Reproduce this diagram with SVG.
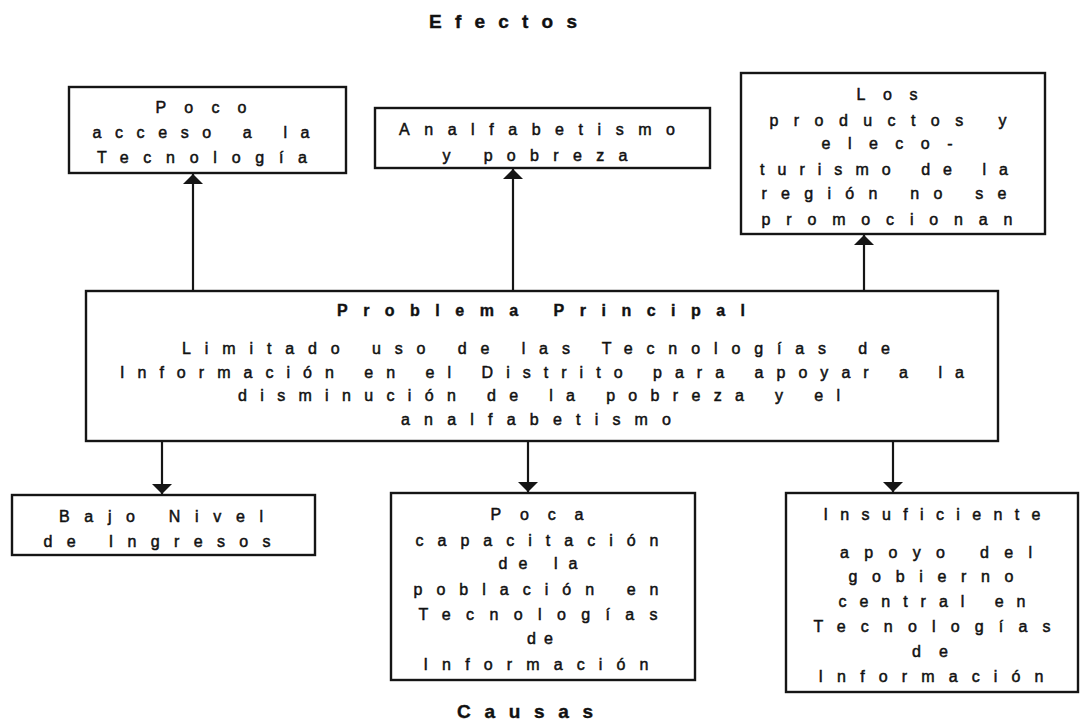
<svg xmlns="http://www.w3.org/2000/svg" width="1083" height="724" viewBox="0 0 1083 724">
<style>
.box{fill:#fff;stroke:#151515;stroke-width:2.4}
.t{font-family:"Liberation Sans",Arial,sans-serif;font-size:16px;fill:#111;stroke:#111;stroke-width:0.5;text-anchor:middle}
.h{font-family:"Liberation Sans",Arial,sans-serif;font-size:19px;font-weight:bold;fill:#111;stroke:#111;stroke-width:0.4;text-anchor:middle}
.c{stroke:#151515;stroke-width:2.2;fill:none}
</style>
<defs>
<marker id="ah" markerUnits="userSpaceOnUse" markerWidth="11" markerHeight="22" refX="10" refY="11" orient="auto">
<path d="M0,1 L10,11 L0,21 z" fill="#151515"/>
</marker>
</defs>
<rect width="1083" height="724" fill="#fff"/>
<text class="h" x="503" y="28" textLength="148" lengthAdjust="spacing">Efectos</text>
<text class="h" x="525" y="718" textLength="136" lengthAdjust="spacing">Causas</text>
<g id="connectors">
<line class="c" x1="193" y1="291" x2="193" y2="174" marker-end="url(#ah)"/>
<line class="c" x1="513" y1="291" x2="513" y2="169" marker-end="url(#ah)"/>
<line class="c" x1="864" y1="291" x2="864" y2="235" marker-end="url(#ah)"/>
<line class="c" x1="162" y1="441" x2="162" y2="494" marker-end="url(#ah)"/>
<line class="c" x1="528" y1="441" x2="528" y2="492" marker-end="url(#ah)"/>
<line class="c" x1="893" y1="441" x2="893" y2="492" marker-end="url(#ah)"/>
</g>
<g id="efecto1">
<rect class="box" x="69" y="87" width="277" height="86"/>
<text class="t" x="201" y="113" textLength="91" lengthAdjust="spacing">Poco</text>
<text class="t" x="201" y="138" textLength="217" lengthAdjust="spacing">acceso a la</text>
<text class="t" x="202" y="163" textLength="210" lengthAdjust="spacing">Tecnología</text>
</g>
<g id="efecto2">
<rect class="box" x="375" y="108" width="335" height="60"/>
<text class="t" x="537" y="135" textLength="276" lengthAdjust="spacing">Analfabetismo</text>
<text class="t" x="535" y="161" textLength="185" lengthAdjust="spacing">y pobreza</text>
</g>
<g id="efecto3">
<rect class="box" x="741" y="73" width="304" height="161"/>
<text class="t" x="887" y="100" textLength="61" lengthAdjust="spacing">Los</text>
<text class="t" x="888" y="126" textLength="237" lengthAdjust="spacing">productos  y</text>
<text class="t" x="887" y="149" textLength="131" lengthAdjust="spacing">eleco-</text>
<text class="t" x="884" y="175" textLength="248" lengthAdjust="spacing">turismo de la</text>
<text class="t" x="884" y="199" textLength="245" lengthAdjust="spacing">región no se</text>
<text class="t" x="887" y="225" textLength="251" lengthAdjust="spacing">promocionan</text>
</g>
<g id="problema">
<rect class="box" x="86" y="291" width="912" height="150"/>
<text class="h" style="font-size:16px" x="541" y="316" textLength="408" lengthAdjust="spacing">Problema Principal</text>
<text class="t" x="536" y="354" textLength="708" lengthAdjust="spacing">Limitado uso de las Tecnologías de</text>
<text class="t" x="542" y="378" textLength="844" lengthAdjust="spacing">Información en el Distrito para apoyar a la</text>
<text class="t" x="539" y="401" textLength="602" lengthAdjust="spacing">disminución de la pobreza y el</text>
<text class="t" x="536" y="425" textLength="270" lengthAdjust="spacing">analfabetismo</text>
</g>
<g id="causa1">
<rect class="box" x="12" y="495" width="303" height="60"/>
<text class="t" x="161" y="522" textLength="204" lengthAdjust="spacing">Bajo Nivel</text>
<text class="t" x="157" y="547" textLength="227" lengthAdjust="spacing">de Ingresos</text>
</g>
<g id="causa2">
<rect class="box" x="391" y="493" width="304" height="187"/>
<text class="t" x="537" y="520" textLength="93" lengthAdjust="spacing">Poca</text>
<text class="t" x="537" y="546" textLength="243" lengthAdjust="spacing">capacitación</text>
<text class="t" x="538" y="569" textLength="79" lengthAdjust="spacing">de la</text>
<text class="t" x="536" y="595" textLength="245" lengthAdjust="spacing">población en</text>
<text class="t" x="538" y="620" textLength="239" lengthAdjust="spacing">Tecnologías</text>
<text class="t" x="540" y="644" textLength="26" lengthAdjust="spacing">de</text>
<text class="t" x="536" y="670" textLength="225" lengthAdjust="spacing">Información</text>
</g>
<g id="causa3">
<rect class="box" x="786" y="493" width="292" height="199"/>
<text class="t" x="932" y="520" textLength="217" lengthAdjust="spacing">Insuficiente</text>
<text class="t" x="936" y="558" textLength="192" lengthAdjust="spacing">apoyo del</text>
<text class="t" x="931" y="582" textLength="165" lengthAdjust="spacing">gobierno</text>
<text class="t" x="932" y="607" textLength="187" lengthAdjust="spacing">central en</text>
<text class="t" x="932" y="632" textLength="237" lengthAdjust="spacing">Tecnologías</text>
<text class="t" x="930" y="657" textLength="36" lengthAdjust="spacing">de</text>
<text class="t" x="931" y="682" textLength="225" lengthAdjust="spacing">Información</text>
</g>
</svg>
